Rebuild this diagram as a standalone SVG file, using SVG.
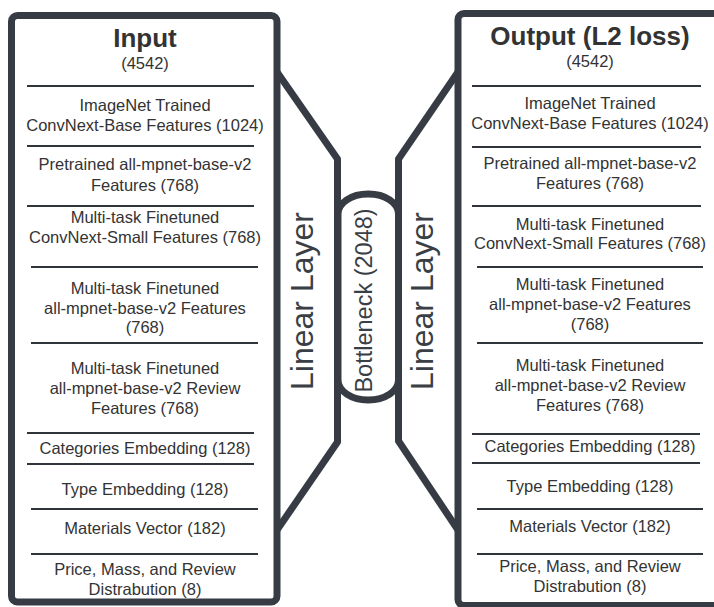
<svg xmlns="http://www.w3.org/2000/svg" width="714" height="607" viewBox="0 0 714 607">
<style>
.frame{fill:#ffffff;stroke:#373c44;stroke-width:7;stroke-linejoin:round}
.trap{fill:none;stroke:#373c44;stroke-width:7;stroke-linejoin:round;stroke-linecap:round}
.sep{stroke:#30353b;stroke-width:2}
.t{font-family:"Liberation Sans",Arial,sans-serif;font-size:16.5px;fill:#333333;text-anchor:middle}
.h{font-family:"Liberation Sans",Arial,sans-serif;font-size:26px;font-weight:bold;fill:#333333;text-anchor:middle}
.big{font-family:"Liberation Sans",Arial,sans-serif;font-size:32px;fill:#3a3f46;text-anchor:middle}
.bn{font-family:"Liberation Sans",Arial,sans-serif;font-size:23.5px;fill:#3a3f46;text-anchor:middle}
</style>
<rect width="714" height="607" fill="#ffffff"/>
<g id="connectors"></g>
<g id="linear-layer-left">
<path class="trap" d="M277,72 L337.5,159 L337.5,442 L277,530"/>
<text class="big" transform="translate(313,301) rotate(-90)">Linear Layer</text>
</g>
<g id="linear-layer-right">
<path class="trap" d="M458,72 L398.5,159 L398.5,441 L458,530"/>
<text class="big" transform="translate(433,301) rotate(-90)">Linear Layer</text>
</g>
<g id="bottleneck">
<rect class="frame" x="338" y="194" width="60.5" height="206" rx="30" ry="20"/>
<text class="bn" transform="translate(372,300.5) rotate(-90)">Bottleneck (2048)</text>
</g>
<g id="input">
<rect class="frame" x="11.5" y="15.5" width="265.5" height="586.5" rx="6"/>
<text class="h" x="145" y="46.5">Input</text>
<text class="t" x="145" y="68.5">(4542)</text>
<line class="sep" x1="27" y1="86" x2="254" y2="86"/>
<text class="t" x="145" y="111">ImageNet Trained</text>
<text class="t" x="145" y="131">ConvNext-Base Features (1024)</text>
<line class="sep" x1="27" y1="146" x2="254" y2="146"/>
<text class="t" x="145" y="170">Pretrained all-mpnet-base-v2</text>
<text class="t" x="145" y="190.5">Features (768)</text>
<line class="sep" x1="27" y1="206" x2="254" y2="206"/>
<text class="t" x="145" y="222.5">Multi-task Finetuned</text>
<text class="t" x="145" y="242.5">ConvNext-Small Features (768)</text>
<line class="sep" x1="31" y1="267" x2="258" y2="267"/>
<text class="t" x="145" y="294">Multi-task Finetuned</text>
<text class="t" x="145" y="313.5">all-mpnet-base-v2 Features</text>
<text class="t" x="145" y="332.5">(768)</text>
<line class="sep" x1="31" y1="343" x2="258" y2="343"/>
<text class="t" x="145" y="374">Multi-task Finetuned</text>
<text class="t" x="145" y="394">all-mpnet-base-v2 Review</text>
<text class="t" x="145" y="413.5">Features (768)</text>
<line class="sep" x1="27" y1="433" x2="254" y2="433"/>
<text class="t" x="145" y="454">Categories Embedding (128)</text>
<line class="sep" x1="27" y1="464" x2="254" y2="464"/>
<text class="t" x="145" y="494.5">Type Embedding (128)</text>
<line class="sep" x1="31" y1="509" x2="258" y2="509"/>
<text class="t" x="145" y="533.5">Materials Vector (182)</text>
<line class="sep" x1="31" y1="554" x2="258" y2="554"/>
<text class="t" x="145" y="575">Price, Mass, and Review</text>
<text class="t" x="145" y="595">Distrabution (8)</text>
</g>
<g id="output">
<rect class="frame" x="458" y="13.5" width="320" height="592" rx="6"/>
<text class="h" x="590" y="45">Output (L2 loss)</text>
<text class="t" x="590" y="66.5">(4542)</text>
<line class="sep" x1="472" y1="86" x2="701" y2="86"/>
<text class="t" x="590" y="108.5">ImageNet Trained</text>
<text class="t" x="590" y="129">ConvNext-Base Features (1024)</text>
<line class="sep" x1="472" y1="147" x2="701" y2="147"/>
<text class="t" x="590" y="169">Pretrained all-mpnet-base-v2</text>
<text class="t" x="590" y="189">Features (768)</text>
<line class="sep" x1="472" y1="206" x2="701" y2="206"/>
<text class="t" x="590" y="230">Multi-task Finetuned</text>
<text class="t" x="590" y="249">ConvNext-Small Features (768)</text>
<line class="sep" x1="477" y1="267" x2="703" y2="267"/>
<text class="t" x="590" y="290">Multi-task Finetuned</text>
<text class="t" x="590" y="310">all-mpnet-base-v2 Features</text>
<text class="t" x="590" y="329.5">(768)</text>
<line class="sep" x1="477" y1="343" x2="703" y2="343"/>
<text class="t" x="590" y="370.5">Multi-task Finetuned</text>
<text class="t" x="590" y="390.5">all-mpnet-base-v2 Review</text>
<text class="t" x="590" y="410.5">Features (768)</text>
<line class="sep" x1="472" y1="434" x2="700" y2="434"/>
<text class="t" x="590" y="451.5">Categories Embedding (128)</text>
<line class="sep" x1="472" y1="463" x2="700" y2="463"/>
<text class="t" x="590" y="491.5">Type Embedding (128)</text>
<line class="sep" x1="477" y1="509" x2="703" y2="509"/>
<text class="t" x="590" y="531.5">Materials Vector (182)</text>
<line class="sep" x1="477" y1="554" x2="703" y2="554"/>
<text class="t" x="590" y="572">Price, Mass, and Review</text>
<text class="t" x="590" y="592">Distrabution (8)</text>
</g>
</svg>
